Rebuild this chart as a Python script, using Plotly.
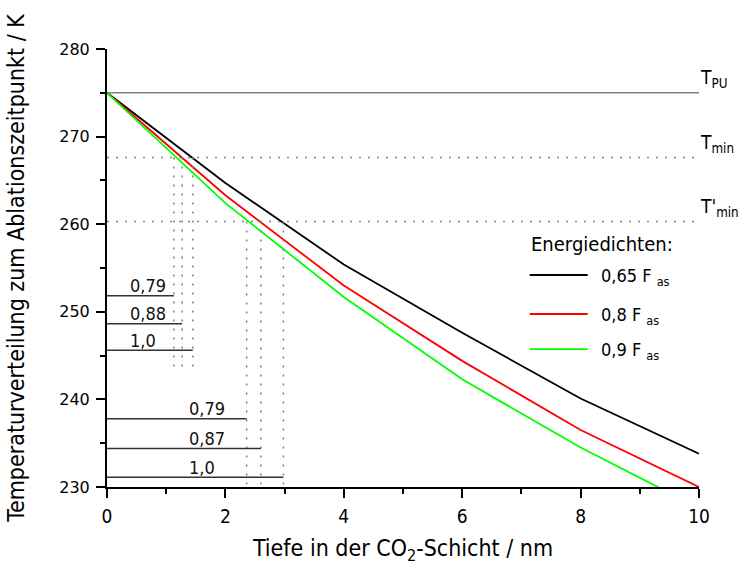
import plotly.graph_objects as go

# ---- data ----
depth_nm = [0, 2, 4, 6, 8, 10]
T_065 = [275.0, 264.7, 255.4, 247.6, 240.1, 233.8]
T_080 = [275.0, 263.3, 253.0, 244.4, 236.5, 230.0]
T_090 = [275.0, 262.4, 251.7, 242.3, 234.5, 227.6]
series_names = ["0,65 F <sub>as</sub>", "0,8 F <sub>as</sub>", "0,9 F <sub>as</sub>"]
series_colors = ["#000000", "#ff0000", "#00ff00"]

T_PU = 275.0
T_min = 267.6
T_min_prime = 260.3

depth_at_Tmin = [1.13, 1.27, 1.45]
labels_Tmin = ["0,79", "0,88", "1,0"]
depth_at_Tmin_prime = [2.36, 2.60, 2.98]
labels_Tmin_prime = ["0,79", "0,87", "1,0"]

x_ticks = [0, 2, 4, 6, 8, 10]
y_ticks = [230, 240, 250, 260, 270, 280]

FONT = "DejaVu Sans Condensed, Liberation Sans Narrow, sans-serif"

fig = go.Figure()
for ys, name, col in zip([T_065, T_080, T_090], series_names, series_colors):
    fig.add_trace(go.Scatter(x=depth_nm, y=ys, mode="lines", name=name,
                             line=dict(color=col, width=1.8), showlegend=False))

shapes = []
annotations = []
DOT = "2px,7px"
GRAY = "#808080"

# reference temperatures
shapes.append(dict(type="line", xref="x", yref="y", x0=0, x1=10, y0=T_PU, y1=T_PU,
                   line=dict(color=GRAY, width=1.5)))
for t in [T_min, T_min_prime]:
    shapes.append(dict(type="line", xref="x", yref="y", x0=0, x1=10, y0=t, y1=t,
                       line=dict(color=GRAY, width=1.5, dash=DOT)))

ref_labels = [("T<sub>PU</sub>", T_PU), ("T<sub>min</sub>", T_min), ("T'<sub>min</sub>", T_min_prime)]
for txt, t in ref_labels:
    annotations.append(dict(text=txt, xref="paper", yref="y", x=1.0, y=t, xanchor="left",
                            yanchor="middle", xshift=-1, yshift=14, showarrow=False,
                            font=dict(family=FONT, size=19, color="#000")))

# depth markers at T_min (upper group) and T'_min (lower group)
upper_levels = [251.84, 248.64, 245.6]
lower_levels = [237.8, 234.4, 231.1]
for d in depth_at_Tmin:
    shapes.append(dict(type="line", xref="x", yref="y", x0=d, x1=d, y0=T_min, y1=243.5,
                       line=dict(color=GRAY, width=1.5, dash=DOT)))
for d in depth_at_Tmin_prime:
    shapes.append(dict(type="line", xref="x", yref="y", x0=d, x1=d, y0=T_min_prime, y1=230.3,
                       line=dict(color=GRAY, width=1.5, dash=DOT)))
for d, lv, lab in zip(depth_at_Tmin, upper_levels, labels_Tmin):
    shapes.append(dict(type="line", xref="x", yref="y", x0=0, x1=d, y0=lv, y1=lv,
                       line=dict(color="#333333", width=1.5)))
    annotations.append(dict(text=lab, xref="x", yref="y", x=0.35, y=lv, xanchor="left",
                            yanchor="middle", yshift=10, showarrow=False,
                            font=dict(family=FONT, size=18, color="#111")))
for d, lv, lab in zip(depth_at_Tmin_prime, lower_levels, labels_Tmin_prime):
    shapes.append(dict(type="line", xref="x", yref="y", x0=0, x1=d, y0=lv, y1=lv,
                       line=dict(color="#333333", width=1.5)))
    annotations.append(dict(text=lab, xref="x", yref="y", x=1.35, y=lv, xanchor="left",
                            yanchor="middle", yshift=10, showarrow=False,
                            font=dict(family=FONT, size=18, color="#111")))

# manual legend
annotations.append(dict(text="Energiedichten:", xref="x", yref="y", x=7.12, y=257.75,
                        xanchor="left", yanchor="middle", showarrow=False,
                        font=dict(family=FONT, size=20, color="#000")))
legend_y = [254.2, 249.75, 245.75]
for ly, name, col in zip(legend_y, series_names, series_colors):
    shapes.append(dict(type="line", xref="x", yref="y", x0=7.14, x1=8.12, y0=ly, y1=ly,
                       line=dict(color=col, width=1.8)))
    annotations.append(dict(text=name, xref="x", yref="y", x=8.31, y=ly, xanchor="left",
                            yanchor="middle", yshift=-2, showarrow=False,
                            font=dict(family=FONT, size=18, color="#000")))

fig.update_layout(
    width=741, height=572,
    margin=dict(l=107, r=42, t=49, b=85, autoexpand=False),
    paper_bgcolor="white", plot_bgcolor="white",
    shapes=shapes, annotations=annotations,
    font=dict(family=FONT, color="#000"),
)
fig.update_xaxes(
    range=[0, 10], tickvals=x_ticks, ticktext=[str(v) for v in x_ticks],
    showgrid=False, zeroline=False, showline=True, linecolor="#000", linewidth=2,
    ticks="outside", ticklen=9, tickwidth=2, tickcolor="#000",
    minor=dict(dtick=1, ticks="outside", ticklen=5, tickwidth=2, tickcolor="#000"),
    tickfont=dict(family=FONT, size=19, color="#000"), ticklabelstandoff=2,
    title=dict(text="Tiefe in der CO<sub>2</sub>-Schicht / nm", standoff=14,
               font=dict(family=FONT, size=23, color="#000")),
    automargin=False,
)
fig.update_yaxes(
    range=[230, 280], tickvals=y_ticks, ticktext=[str(v) for v in y_ticks],
    showgrid=False, zeroline=False, showline=True, linecolor="#000", linewidth=2,
    ticks="outside", ticklen=9, tickwidth=2, tickcolor="#000",
    minor=dict(dtick=5, ticks="outside", ticklen=5, tickwidth=2, tickcolor="#000"),
    tickfont=dict(family="DejaVu Sans, sans-serif", size=16, color="#000"), ticklabelstandoff=3,
    title=dict(text="Temperaturverteilung zum Ablationszeitpunkt / K", standoff=28,
               font=dict(family=FONT, size=23, color="#000")),
    automargin=False,
)

fig.write_html("out.html")
